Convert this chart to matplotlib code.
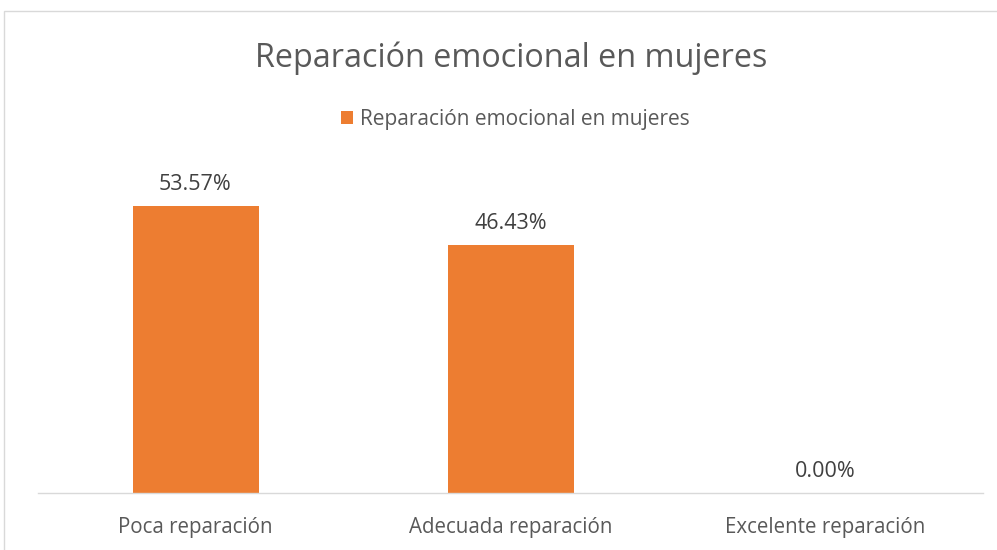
import matplotlib
matplotlib.use("Agg")
import matplotlib.pyplot as plt
from matplotlib.patches import Rectangle

categories = ["Poca reparación", "Adecuada reparación", "Excelente reparación"]
values = [0.5357, 0.4643, 0.0]
labels = ["53.57%", "46.43%", "0.00%"]
series_name = "Reparación emocional en mujeres"
title = "Reparación emocional en mujeres"

W, H = 997, 550
fig = plt.figure(figsize=(W / 100, H / 100), dpi=100)
plt.rcParams['font.family'] = ['Open Sans', 'DejaVu Sans']

# chart frame
fig.patches.append(Rectangle((4 / W, -0.1), 1.2, 1 - 11 / H + 0.1, transform=fig.transFigure,
                             fill=False, edgecolor='#D9D9D9', linewidth=1.0))

ax_left, ax_right = 38, 983
ax_bottom, ax_top = 493, 172
ax = fig.add_axes([ax_left / W, 1 - ax_bottom / H, (ax_right - ax_left) / W, (ax_bottom - ax_top) / H])
x = range(len(categories))
bars = ax.bar(x, values, width=0.4, color='#ED7D31', label=series_name)
ax.set_xlim(-0.5, len(categories) - 0.5)
ax.set_ylim(0, 0.6)
for s in ['top', 'right', 'left']:
    ax.spines[s].set_visible(False)
ax.spines['bottom'].set_color('#D9D9D9')
ax.spines['bottom'].set_linewidth(1.0)
ax.set_yticks([])
ax.set_xticks(list(x))
ax.set_xticklabels(categories, fontsize=14.8, color='#595959')
ax.tick_params(axis='x', length=0, pad=17.5)
for xi, v, lab in zip(x, values, labels):
    ax.annotate(lab, (xi, v), xytext=(0, 15.5), textcoords='offset points', ha='center', va='center',
                fontsize=15.5, color='#404040')

fig.text(511 / W, 1 - 58 / H, title, ha='center', va='center', fontsize=23.3, color='#595959')
ax.legend(loc='center', bbox_to_anchor=(515 / W, 1 - 119 / H), bbox_transform=fig.transFigure,
          frameon=False, fontsize=15, labelcolor='#595959', handlelength=0.6, handleheight=0.6,
          handletextpad=0.3)

fig.savefig("out.png", dpi=100, facecolor='white')
